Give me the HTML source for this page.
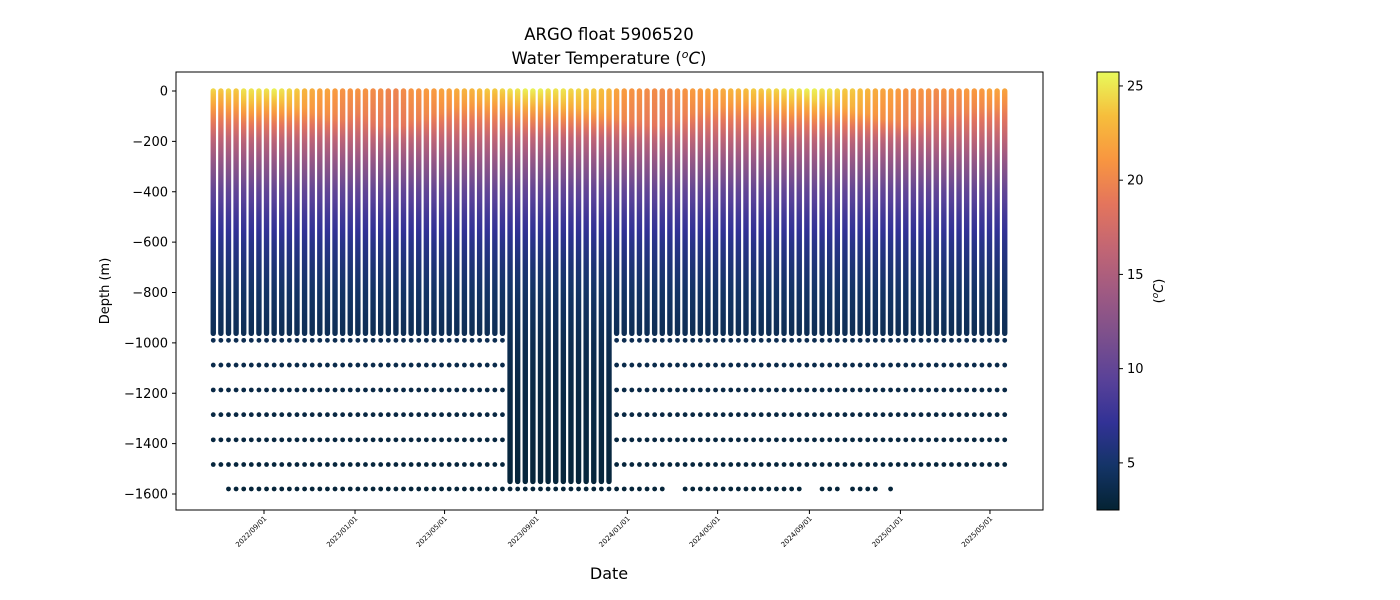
<!DOCTYPE html>
<html><head><meta charset="utf-8"><style>
html,body{margin:0;padding:0;background:#fff;width:1400px;height:600px;overflow:hidden}
svg text{font-family:"DejaVu Sans","Liberation Sans",sans-serif;fill:#000}
</style></head><body>
<svg id="chart" width="1400" height="600" viewBox="0 0 1400 600" xmlns="http://www.w3.org/2000/svg">
<defs id="defs"></defs>
<text x="609" y="40" font-size="16.5" text-anchor="middle">ARGO float 5906520</text>
<text x="609" y="64" font-size="16.5" text-anchor="middle">Water Temperature (<tspan font-size="11" dy="-6" font-style="italic">o</tspan><tspan dy="6" font-style="italic">C</tspan>)</text>
<g id="plot"></g>
<rect x="176" y="72" width="867" height="438" fill="none" stroke="#000" stroke-width="1"/>
<g id="yaxis"></g>
<g id="xaxis"></g>
<text transform="translate(109,291) rotate(-90)" font-size="13" text-anchor="middle">Depth (m)</text>
<text x="609" y="579" font-size="16" text-anchor="middle">Date</text>
<g id="cbar"></g>
<text transform="translate(1163,291) rotate(-90)" font-size="13" text-anchor="middle">(<tspan font-size="9" dy="-5" font-style="italic">o</tspan><tspan dy="5" font-style="italic">C</tspan>)</text>
</svg>
<script>
// ---- data ----
const startDate = "2022-06-25";
const cadenceDays = 10.2;
const surfaceTemp = [24.5,24,24.5,24,25,25,25,25,25.5,25,24.5,24,
 23,22.5,22,22,21.5,21,21,21,21,
 20.5,20.5,20,20,20.5,21,21,21.5,21.5,22,22,22.5,
 23,23,23.5,24,24,24.5,25,25,25.5,
 25.5,25.5,25,25,25,24.5,24.5,24,24,23.5,23,
 22,21.5,21,21,20.5,20.5,20.5,20.5,21,21,21.5,21.5,
 22,22,22.5,23,23,23.5,24,24,24.5,24.5,25,25,
 25,25.5,25.5,25,25,24.5,24,24,23.5,
 23,22.5,22,22,21.5,21,21,21,21,20.5,21,21,
 21,21.5,21.5,21.5,22,22,22];
const mixedDepth = [40,40,45,50,50,55,50,45,40,50,60,70,
 80,90,100,110,110,120,110,100,110,
 130,140,150,150,140,130,120,110,100,90,80,70,
 60,60,50,50,40,40,40,50,40,
 40,40,50,50,60,60,70,80,80,90,100,
 110,120,130,130,140,140,140,130,120,110,100,90,
 80,80,70,60,60,50,50,40,40,40,40,50,
 40,40,50,50,60,60,70,80,90,
 100,110,120,120,130,140,130,120,110,100,100,100,
 90,90,80,80,70,70,60];
const refDepth = [200,300,400,500,600,700,800,1000,1200,1600];
const refTemp  = [16,12.8,10,8,6.5,5.5,4.7,3.8,3.3,2.8];
const denseBottom = 962;
const deepDenseBottom = 1550;
const deepDenseIdx = [39,40,41,42,43,44,45,46,47,48,49,50,51,52];
const sparseDepths = [990,1088,1187,1285,1385,1483];
const bottomDepth = 1580;
const bottomPresent = [[2,59],[62,77],[80,82],[84,87],[89,89]];
const yTicks = [0,-200,-400,-600,-800,-1000,-1200,-1400,-1600];
const xTickLabels = ["2022/09/01","2023/01/01","2023/05/01","2023/09/01","2024/01/01","2024/05/01","2024/09/01","2025/01/01","2025/05/01"];
const cbTicks = [5,10,15,20,25];
const vmin = 2.5, vmax = 25.74;

// ---- scales ----
const NS="http://www.w3.org/2000/svg";
const dayMs = 86400000;
const ref0 = Date.UTC(2022,8,1);
function xScale(t){ return 264 + (t-ref0)/dayMs*0.7461; }
function yScale(v){ return 91 - v*403/1600; }
function yDepth(m){ return 91 + m*403/1600; }
const stops=[[0,4,35,51],[0.1,20,52,103],[0.2,50,50,150],[0.3,90,66,152],[0.4,125,80,140],[0.5,160,90,130],[0.6,195,102,115],[0.7,228,117,92],[0.8,248,150,64],[0.9,246,190,60],[1,232,250,91]];
function cmap(T){
  let f=Math.max(0,Math.min(1,(T-vmin)/(vmax-vmin)));
  for(let i=1;i<stops.length;i++){ if(f<=stops[i][0]){const a=stops[i-1],b=stops[i],u=(f-a[0])/(b[0]-a[0]);
    return `rgb(${Math.round(a[1]+u*(b[1]-a[1]))},${Math.round(a[2]+u*(b[2]-a[2]))},${Math.round(a[3]+u*(b[3]-a[3]))})`;}}
  return "rgb(232,250,91)";
}
function tempAt(i,m){
  const s=surfaceTemp[i], mld=mixedDepth[i];
  if(m<=mld) return s - 1.5*m/mld;
  if(m<=refDepth[0]) return (s-1.5) + (refTemp[0]-(s-1.5))*(m-mld)/(refDepth[0]-mld);
  for(let k=1;k<refDepth.length;k++) if(m<=refDepth[k]) return refTemp[k-1]+(refTemp[k]-refTemp[k-1])*(m-refDepth[k-1])/(refDepth[k]-refDepth[k-1]);
  return refTemp[refTemp.length-1];
}
const defs=document.getElementById('defs'), plot=document.getElementById('plot');
const t0=Date.parse(startDate+"T00:00:00Z");
const r=2.7;
for(let i=0;i<surfaceTemp.length;i++){
  const x=xScale(t0+i*cadenceDays*dayMs);
  const bottom = deepDenseIdx.includes(i)?deepDenseBottom:denseBottom;
  const g=document.createElementNS(NS,'linearGradient');
  g.setAttribute('id','pg'+i); g.setAttribute('x1','0');g.setAttribute('y1','0');g.setAttribute('x2','0');g.setAttribute('y2','1');
  for(let k=0;k<=40;k++){const m=bottom*k/40; const st=document.createElementNS(NS,'stop');
    st.setAttribute('offset',k/40); st.setAttribute('stop-color',cmap(tempAt(i,m))); g.appendChild(st);}
  defs.appendChild(g);
  const rc=document.createElementNS(NS,'rect');
  
  
  rc.setAttribute('x',x-r); rc.setAttribute('width',2*r);
  rc.setAttribute('y',yDepth(0)-r); rc.setAttribute('height',yDepth(bottom)-yDepth(0)+2*r);
  rc.setAttribute('rx',r); rc.setAttribute('fill',`url(#pg${i})`);
  plot.appendChild(rc);
  const depths = deepDenseIdx.includes(i)?[]:sparseDepths.slice();
  if(bottomPresent.some(p=>i>=p[0]&&i<=p[1])) depths.push(bottomDepth);
  for(const m of depths){
    const c=document.createElementNS(NS,'circle');
    
    
    c.setAttribute('cx',x); c.setAttribute('cy',yDepth(m)); c.setAttribute('r',2.4);
    c.setAttribute('fill',cmap(tempAt(i,m))); plot.appendChild(c);
  }
}
// y axis
const ya=document.getElementById('yaxis');
for(const v of yTicks){
  const y=yScale(v);
  const l=document.createElementNS(NS,'line');
  
  
  l.setAttribute('x1',172);l.setAttribute('x2',176);l.setAttribute('y1',y);l.setAttribute('y2',y);l.setAttribute('stroke','#000');ya.appendChild(l);
  const t=document.createElementNS(NS,'text');
  
  
  t.setAttribute('x',168);t.setAttribute('y',y+4.5);t.setAttribute('font-size','13');t.setAttribute('text-anchor','end');
  t.textContent=v<0?'\u2212'+(-v):String(v); ya.appendChild(t);
}
// x axis
const xa=document.getElementById('xaxis');
for(const lab of xTickLabels){
  const [Y,M,D]=lab.split('/').map(Number);
  const x=xScale(Date.UTC(Y,M-1,D));
  const l=document.createElementNS(NS,'line');
  
  
  l.setAttribute('x1',x);l.setAttribute('x2',x);l.setAttribute('y1',510);l.setAttribute('y2',514);l.setAttribute('stroke','#000');xa.appendChild(l);
  const t=document.createElementNS(NS,'text');
  
  
  t.setAttribute('font-size','7');t.setAttribute('text-anchor','end');
  t.setAttribute('transform',`translate(${x+3},${519}) rotate(-45)`);
  t.textContent=lab; xa.appendChild(t);
}
// colorbar
const cb=document.getElementById('cbar');
const cg=document.createElementNS(NS,'linearGradient');
cg.setAttribute('id','cbg');cg.setAttribute('x1','0');cg.setAttribute('y1','1');cg.setAttribute('x2','0');cg.setAttribute('y2','0');
for(const s of stops){const st=document.createElementNS(NS,'stop');st.setAttribute('offset',s[0]);st.setAttribute('stop-color',`rgb(${s[1]},${s[2]},${s[3]})`);cg.appendChild(st);}
defs.appendChild(cg);
const cr=document.createElementNS(NS,'rect');


cr.setAttribute('x',1097);cr.setAttribute('y',72);cr.setAttribute('width',22);cr.setAttribute('height',438);
cr.setAttribute('fill','url(#cbg)');cr.setAttribute('stroke','#000');cb.appendChild(cr);
for(const v of cbTicks){
  const y=510-(v-vmin)/(vmax-vmin)*438;
  const l=document.createElementNS(NS,'line');
  
  
  l.setAttribute('x1',1119);l.setAttribute('x2',1123);l.setAttribute('y1',y);l.setAttribute('y2',y);l.setAttribute('stroke','#000');cb.appendChild(l);
  const t=document.createElementNS(NS,'text');
  
  
  t.setAttribute('x',1127);t.setAttribute('y',y+4.5);t.setAttribute('font-size','13');
  t.textContent=v; cb.appendChild(t);
}
</script>
</body></html>
